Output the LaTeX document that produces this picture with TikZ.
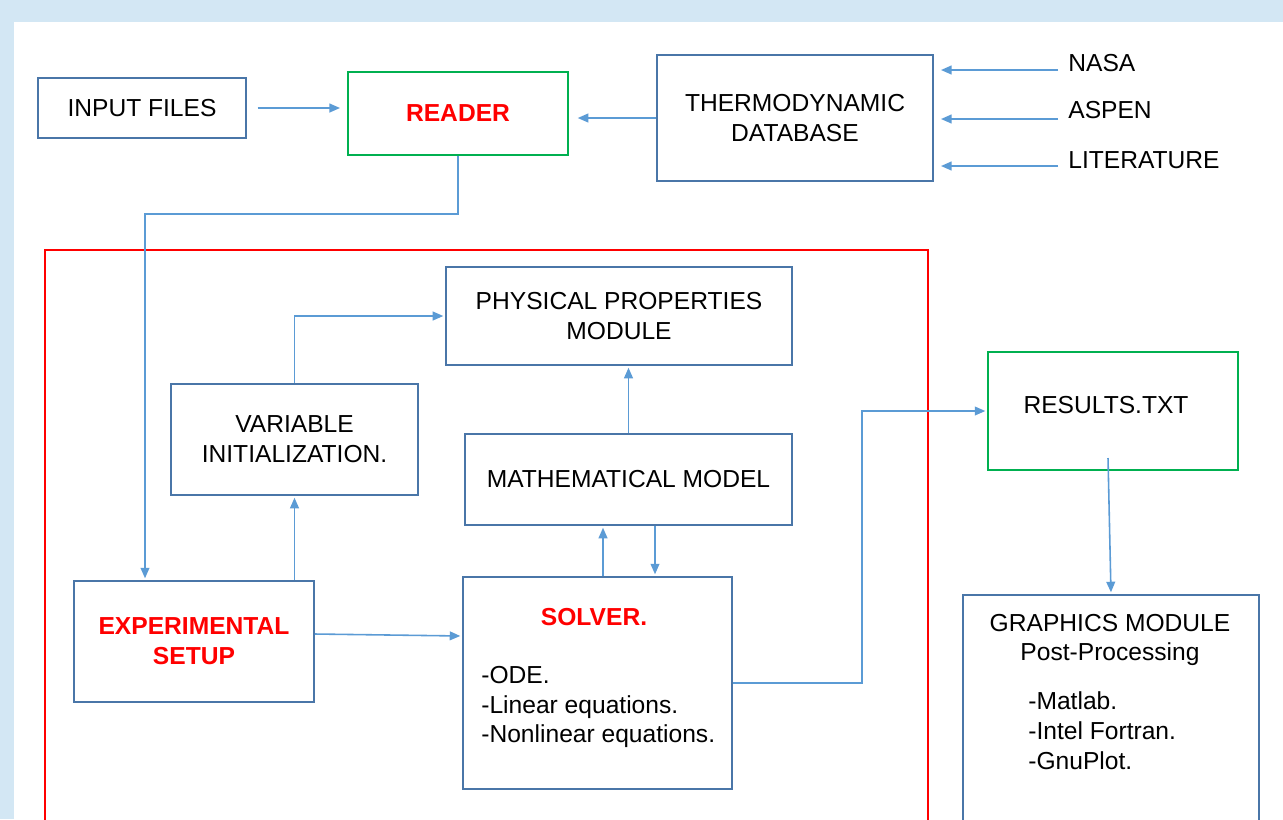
\documentclass[tikz,border=0pt]{standalone}
\usepackage{fontspec}
\setmainfont{Liberation Sans}
\usepackage{tikz}
\usetikzlibrary{arrows.meta,calc}
\usepackage{xcolor}
\definecolor{boxblue}{HTML}{4A76A8}
\definecolor{linkblue}{HTML}{5B9BD5}
\definecolor{okgreen}{HTML}{00B050}
\definecolor{bgblue}{HTML}{D3E7F4}

\begin{document}
\begin{tikzpicture}[
  x=0.02cm, y=-0.02cm,
  font=\fontsize{14}{17}\selectfont,
  box/.style={draw=boxblue,line width=1.1pt,align=center,inner sep=0pt},
  gbox/.style={box,draw=okgreen},
  title/.style={text=red,font=\fontsize{14}{17}\selectfont\bfseries},
  link/.style={draw=linkblue,line width=0.9pt,shorten >=1pt,-{Triangle[length=6pt,width=5pt]}}
  ]
\useasboundingbox (0,0) rectangle (1283,819);
\clip (0,0) rectangle (1283,819);
\fill[bgblue] (0,0) rectangle (1283,819);
\fill[white] (14,22) rectangle (1283,819);
% top row
\node[box,minimum width=208*0.02cm,minimum height=60*0.02cm] (input) at (142,108) {INPUT FILES};
\node[gbox,title,minimum width=220*0.02cm,minimum height=83*0.02cm] (reader) at (458,113.5) {READER};
\node[box,minimum width=276*0.02cm,minimum height=126*0.02cm] (thermo) at (795,118) {THERMODYNAMIC\\DATABASE};
\foreach \name/\txt/\ty/\ay in {nasa/NASA/63/70, aspen/ASPEN/110/119, lit/LITERATURE/160/166}{
  \node[anchor=west,inner sep=0pt] (\name) at (1068,\ty) {\txt};
  \coordinate (\name-in) at (1058,\ay);
  \draw[link,shorten >=4pt] (\name-in) -- (\name-in -| thermo.east);
}
\draw[link,shorten <=6pt,shorten >=4pt] (input.east) -- (reader.west |- input.east);
\draw[link,shorten >=5pt] (thermo.west) -- (reader.east |- thermo.west);
% model frame
\draw[red,line width=1.1pt] (45,250) rectangle (928,850);
\node[box,minimum width=346*0.02cm,minimum height=98*0.02cm] (phys) at (619,316) {PHYSICAL PROPERTIES\\MODULE};
\node[box,minimum width=247*0.02cm,minimum height=111*0.02cm] (varinit) at (294.5,439.5) {VARIABLE\\INITIALIZATION.};
\node[box,minimum width=327*0.02cm,minimum height=91*0.02cm] (math) at (628.5,479.5) {MATHEMATICAL MODEL};
\node[box,title,minimum width=240*0.02cm,minimum height=121*0.02cm] (exp) at (194,641.5) {EXPERIMENTAL\\SETUP};
\node[box,minimum width=269*0.02cm,minimum height=212*0.02cm] (solver) at (597.5,683) {};
\node[title,inner sep=0pt] (solvertitle) at (594,617) {SOLVER.};
\node[anchor=west,align=left,inner sep=0pt] (solverlist) at (481,707) {-ODE.\\-Linear equations.\\-Nonlinear equations.};
% outputs
\node[gbox,minimum width=250*0.02cm,minimum height=118*0.02cm] (results) at (1113,411) {};
\node[inner sep=0pt] (resultstxt) at (1106,405) {RESULTS.TXT};
\node[box,minimum width=296*0.02cm,minimum height=260*0.02cm] (graphics) at (1111,725) {};
\node[inner sep=0pt,align=center] (graphicstxt) at (1110,640) {GRAPHICS MODULE\\Post-Processing};
\node[anchor=west,align=left,inner sep=0pt] (graphicslist) at (1028,731) {-Matlab.\\-Intel Fortran.\\-GnuPlot.};
% connectors
\coordinate (rdrop) at (145,214);
\draw[link] (reader.south) |- (rdrop) -- (rdrop |- exp.north);
\draw[link] (exp.north -| varinit) -- (varinit.south);
\draw[link] (varinit.north) |- (phys.west);
\draw[link] (math.north) -- (math.north |- phys.south);
\coordinate (up) at (603,0);
\coordinate (down) at (655,0);
\draw[link] (solver.north -| up) -- (math.south -| up);
\draw[link] (math.south -| down) -- (solver.north -| down);
\draw[link] (exp.east |- 0,634) -- (solver.west |- 0,636);
\draw[link] (solver.east) -| (862,411) -- (results.west);
\coordinate (rtail) at (1108,458);
\draw[link] (rtail) -- (graphics.north);
\end{tikzpicture}
\end{document}
